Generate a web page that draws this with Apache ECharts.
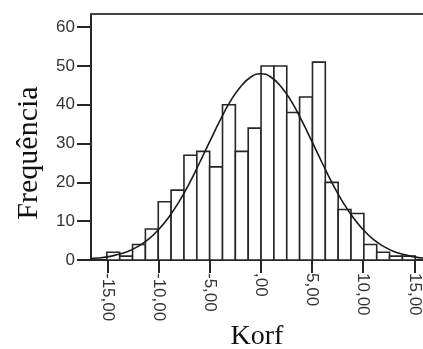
<!DOCTYPE html>
<html>
<head>
<meta charset="utf-8">
<script src="https://cdn.jsdelivr.net/npm/echarts@6.0.0/dist/echarts.min.js"></script>
<style>
  html, body { margin: 0; padding: 0; background: #fff; }
  #chart { width: 423px; height: 349px; }
</style>
</head>
<body>
<div id="chart"></div>
<script>
// histogram bins (Korf)
const binStart = -15.05;
const binWidth = 1.256;
const counts = [2, 1, 4, 8, 15, 18, 27, 28, 24, 40, 28, 34, 50, 50, 38, 42, 51, 20, 13, 12, 4, 2, 1, 1];

// normal curve
const curveX = [-17, -16, -15, -14, -13, -12, -11, -10, -9, -8, -7, -6, -5, -4, -3, -2, -1, 0,
  1, 2, 3, 4, 5, 6, 7, 8, 9, 10, 11, 12, 13, 14, 15, 16];
const curveY = [0.25, 0.5, 0.8, 1.4, 2.2, 3.5, 5.3, 7.8, 11.0, 15.0, 19.7, 25.0, 30.5, 35.9, 40.8, 44.6, 47.1, 48,
  47.1, 44.6, 40.8, 35.9, 30.5, 25.0, 19.7, 15.0, 11.0, 7.8, 5.3, 3.5, 2.2, 1.4, 0.8, 0.5];

const xTicks = [-15, -10, -5, 0, 5, 10, 15];
const yTicks = [0, 10, 20, 30, 40, 50, 60];

const lineColor = '#262626';

const fmtX = v => {
  if (v === 0) return ',00';
  return v.toFixed(2).replace('.', ',');
};

const bars = counts.map((c, i) => [binStart + i * binWidth, binStart + (i + 1) * binWidth, c]);
const curve = curveX.map((x, i) => [x, curveY[i]]);

const chart = echarts.init(document.getElementById('chart'));

const option = {
  backgroundColor: '#fff',
  animation: false,
  grid: {
    left: 91,
    top: 14,
    right: 0,
    bottom: 89,
    outerBoundsMode: 'none',
  },
  xAxis: [
    {
      type: 'value',
      min: -16.6,
      max: 15.85,
      name: 'Korf',
      nameLocation: 'middle',
      nameGap: 63,
      nameMoveOverlap: false,
      nameTextStyle: {
        fontFamily: 'Liberation Serif',
        fontSize: 28,
        color: '#111',
      },
      axisLine: {
        show: true,
        onZero: false,
        lineStyle: { color: lineColor, width: 2 },
      },
      axisTick: {
        customValues: xTicks,
        length: 13,
        lineStyle: { color: lineColor, width: 2 },
      },
      axisLabel: {
        customValues: xTicks,
        rotate: -90,
        margin: 13,
        fontFamily: 'Liberation Sans',
        fontSize: 17,
        color: '#333',
        formatter: fmtX,
      },
      splitLine: { show: false },
    },
    {
      // top border of the frame
      type: 'value',
      position: 'top',
      min: -16.6,
      max: 15.85,
      axisLine: {
        show: true,
        onZero: false,
        lineStyle: { color: '#444', width: 2 },
      },
      axisTick: { show: false },
      axisLabel: { show: false },
      splitLine: { show: false },
    },
  ],
  yAxis: {
    type: 'value',
    min: 0,
    max: 63.4,
    name: 'Frequência',
    nameLocation: 'middle',
    nameGap: 47,
    nameMoveOverlap: false,
    nameTextStyle: {
      fontFamily: 'Liberation Serif',
      fontSize: 30,
      color: '#111',
      padding: [0, 32, 0, 0],
    },
    axisLine: {
      show: true,
      onZero: false,
      lineStyle: { color: lineColor, width: 2 },
    },
    axisTick: {
      customValues: yTicks,
      length: 14,
      lineStyle: { color: lineColor, width: 2 },
    },
    axisLabel: {
      customValues: yTicks,
      margin: 16,
      fontFamily: 'Liberation Sans',
      fontSize: 17,
      color: '#333',
    },
    splitLine: { show: false },
  },
  series: [
    {
      type: 'custom',
      xAxisIndex: 0,
      data: bars,
      encode: { x: [0, 1], y: 2 },
      renderItem: (params, api) => {
        const top = api.coord([api.value(0), api.value(2)]);
        const bottom = api.coord([api.value(1), 0]);
        return {
          type: 'rect',
          shape: {
            x: top[0],
            y: top[1],
            width: bottom[0] - top[0],
            height: bottom[1] - top[1],
          },
          style: {
            fill: '#fff',
            stroke: lineColor,
            lineWidth: 1.6,
          },
        };
      },
      z: 2,
    },
    {
      type: 'line',
      xAxisIndex: 0,
      data: curve,
      smooth: true,
      showSymbol: false,
      lineStyle: { color: '#1a1a1a', width: 1.6 },
      z: 3,
    },
  ],
};

chart.setOption(option);
</script>
</body>
</html>
